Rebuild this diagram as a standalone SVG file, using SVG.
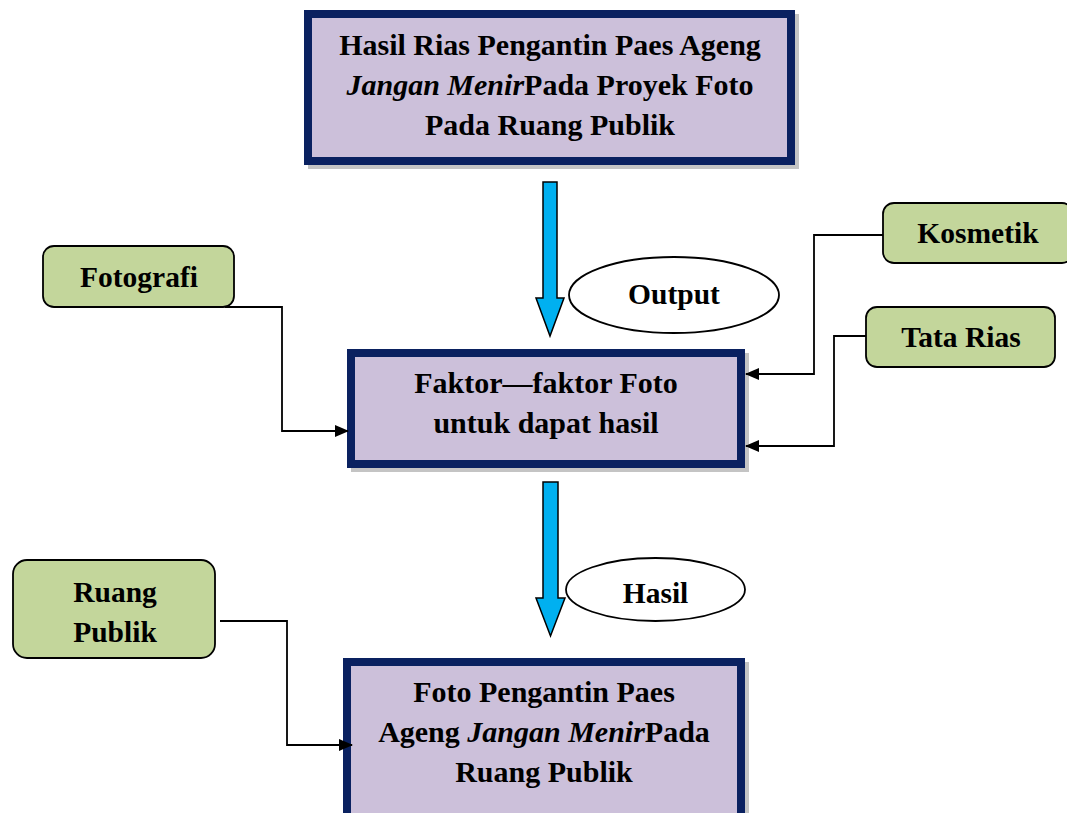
<svg xmlns="http://www.w3.org/2000/svg" width="1067" height="813" viewBox="0 0 1067 813">
<style>
text{font-family:"Liberation Serif","Times New Roman",serif;font-weight:bold;fill:#000;text-anchor:middle}
.main{font-size:30px}
.lbl{font-size:29.5px}
.it{font-style:italic}
.box{fill:#CCC0DA;stroke:#0A2160;stroke-width:8}
.shadow{fill:#C4C4C4}
.green{fill:#C3D69B;stroke:#000;stroke-width:1.8}
.ell{fill:#fff;stroke:#000;stroke-width:1.8}
.big{fill:#00B0F0;stroke:#000;stroke-width:1.5}
.conn{fill:none;stroke:#000;stroke-width:1.8}
</style>
<defs>
<marker id="ah" viewBox="0 0 14 12" refX="13" refY="6" markerWidth="14" markerHeight="12" markerUnits="userSpaceOnUse" orient="auto">
<path d="M0,0 L14,6 L0,12 Z" fill="#000"/>
</marker>
</defs>
<rect width="1067" height="813" fill="#fff"/>

<g id="top-box">
<rect class="shadow" x="308" y="14" width="491" height="155"/>
<rect class="box" x="308" y="14" width="483" height="147"/>
<text class="main" x="550" y="55">Hasil Rias Pengantin Paes Ageng</text>
<text class="main" x="550" y="95"><tspan class="it">Jangan Menir</tspan>Pada Proyek Foto</text>
<text class="main" x="550" y="135">Pada Ruang Publik</text>
</g>

<g id="middle-box">
<rect class="shadow" x="351" y="353" width="398" height="119"/>
<rect class="box" x="351" y="353" width="390" height="111"/>
<text class="main" x="546" y="393">Faktor—faktor Foto</text>
<text class="main" x="546" y="433">untuk dapat hasil</text>
</g>

<g id="bottom-box">
<rect class="shadow" x="347" y="662" width="402" height="170"/>
<rect class="box" x="347" y="662" width="394" height="170"/>
<text class="main" x="544" y="702">Foto Pengantin Paes</text>
<text class="main" x="544" y="742">Ageng <tspan class="it">Jangan Menir</tspan>Pada</text>
<text class="main" x="544" y="782">Ruang Publik</text>
</g>

<g id="fotografi">
<rect class="green" x="43" y="246" width="191" height="61" rx="11"/>
<text class="lbl" x="139" y="287">Fotografi</text>
</g>

<g id="kosmetik">
<rect class="green" x="883" y="203" width="190" height="60" rx="11"/>
<text class="lbl" x="978" y="243">Kosmetik</text>
</g>

<g id="tata-rias">
<rect class="green" x="866" y="307" width="189" height="60" rx="11"/>
<text class="lbl" x="961" y="347">Tata Rias</text>
</g>

<g id="ruang-publik">
<rect class="green" x="13" y="560" width="202" height="98" rx="14"/>
<text class="lbl" x="115" y="602">Ruang</text>
<text class="lbl" x="115" y="642">Publik</text>
</g>

<g id="output-label">
<ellipse class="ell" cx="674" cy="295" rx="105" ry="38"/>
<text class="lbl" x="674" y="304">Output</text>
</g>

<g id="hasil-label">
<ellipse class="ell" cx="655.5" cy="589.5" rx="89.5" ry="31.5"/>
<text class="lbl" x="655.5" y="603">Hasil</text>
</g>

<g id="connectors">
<path class="big" d="M543,182 L557,182 L557,298 L564,298 L550,336 L536,298 L543,298 Z"/>
<path class="big" d="M543,482 L558,482 L558,598 L565,598 L550.5,636 L536,598 L543,598 Z"/>
<path class="conn" d="M225,307 L282,307 L282,431 L348,431" marker-end="url(#ah)"/>
<path class="conn" d="M883,235 L814,235 L814,374 L746,374" marker-end="url(#ah)"/>
<path class="conn" d="M866,336 L834,336 L834,446 L746,446" marker-end="url(#ah)"/>
<path class="conn" d="M220,621 L287,621 L287,745 L352,745" marker-end="url(#ah)"/>
</g>
</svg>
